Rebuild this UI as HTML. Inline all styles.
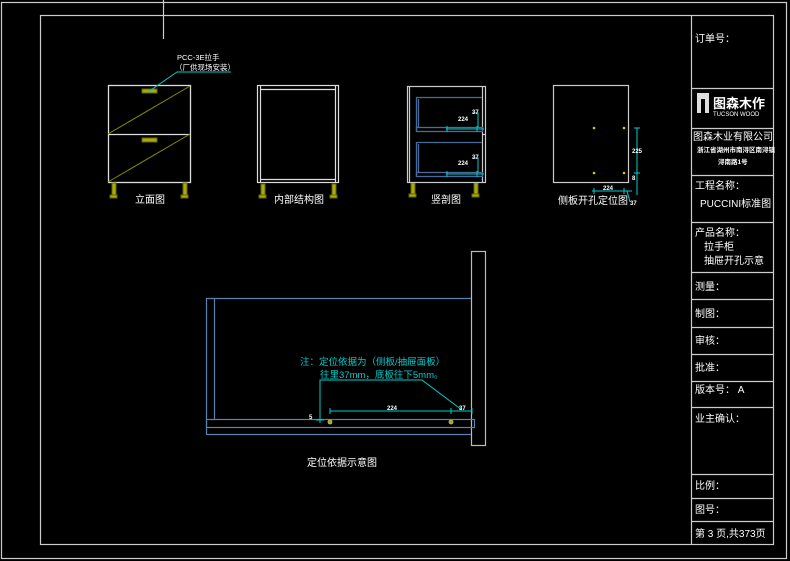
<!DOCTYPE html>
<html><head><meta charset="utf-8"><style>
html,body{margin:0;padding:0;background:#000;width:790px;height:561px;overflow:hidden}
svg{display:block}
text{font-family:"Liberation Sans","Noto Sans CJK SC",sans-serif;fill:#fff}
</style></head><body>
<svg width="790" height="561" viewBox="0 0 790 561" xmlns="http://www.w3.org/2000/svg">
<g fill="none" stroke="#ccc" stroke-width="1.2">
<rect x="1.5" y="2.5" width="785" height="556"/>
<rect x="40.5" y="15.5" width="733" height="529"/>
<line x1="163.5" y1="0" x2="163.5" y2="39"/>
<line x1="691.5" y1="15" x2="691.5" y2="544"/>
<line x1="691" y1="88.5" x2="773" y2="88.5"/>
<line x1="691" y1="128.5" x2="773" y2="128.5"/>
<line x1="691" y1="175.5" x2="773" y2="175.5"/>
<line x1="691" y1="222.5" x2="773" y2="222.5"/>
<line x1="691" y1="272.5" x2="773" y2="272.5"/>
<line x1="691" y1="299.5" x2="773" y2="299.5"/>
<line x1="691" y1="327.5" x2="773" y2="327.5"/>
<line x1="691" y1="354.5" x2="773" y2="354.5"/>
<line x1="691" y1="381.5" x2="773" y2="381.5"/>
<line x1="691" y1="407.5" x2="773" y2="407.5"/>
<line x1="691" y1="474.5" x2="773" y2="474.5"/>
<line x1="691" y1="498.5" x2="773" y2="498.5"/>
<line x1="691" y1="521.5" x2="773" y2="521.5"/>
</g>
<g font-size="10">
<text x="695" y="42">订单号：</text>
<text x="693" y="140">图森木业有限公司</text>
<text x="695" y="189">工程名称：</text>
<text x="700" y="207">PUCCINI标准图</text>
<text x="695" y="236">产品名称：</text>
<text x="704" y="250">拉手柜</text>
<text x="704" y="264">抽屉开孔示意</text>
<text x="695" y="290">测量：</text>
<text x="695" y="317">制图：</text>
<text x="695" y="344">审核：</text>
<text x="695" y="371">批准：</text>
<text x="695" y="393">版本号： A</text>
<text x="695" y="422">业主确认：</text>
<text x="695" y="489">比例：</text>
<text x="695" y="513">图号：</text>
<text x="695" y="537">第 3 页,共373页</text>
</g>
<text x="697" y="152" font-size="6.5" font-weight="bold">浙江省湖州市南浔区南浔镇</text>
<text x="718" y="164" font-size="6.5" font-weight="bold">浔南路1号</text>
<rect x="697" y="93" width="12" height="20" fill="#ddd"/>
<rect x="701" y="99" width="4" height="14" fill="#000"/>
<text x="713" y="108" font-size="13" font-weight="bold">图森木作</text>
<text x="713" y="116" font-size="6">TUCSON WOOD</text>

<g fill="none" stroke="#ddd" stroke-width="1.3">
<rect x="108.5" y="85.5" width="82" height="97"/>
<line x1="108" y1="134.5" x2="190" y2="134.5"/>
</g>
<g stroke="#888800" stroke-width="1">
<line x1="108" y1="134" x2="190" y2="86"/>
<line x1="108" y1="182" x2="190" y2="134"/>
</g>
<g fill="#aaaa10" stroke="#666600">
<rect x="142" y="89" width="15" height="4"/><rect x="142" y="138" width="15" height="4"/>
<rect x="112" y="183" width="4" height="13"/><rect x="110" y="195" width="7" height="3"/>
<rect x="183" y="183" width="4" height="13"/><rect x="181" y="195" width="7" height="3"/>
<rect x="261" y="184" width="4" height="12"/><rect x="259" y="195" width="7" height="3"/>
<rect x="332" y="184" width="4" height="12"/><rect x="330" y="195" width="7" height="3"/>
<rect x="411" y="183" width="4" height="12"/><rect x="409" y="194" width="7" height="3"/>
<rect x="474" y="183" width="4" height="12"/><rect x="472" y="194" width="7" height="3"/>
</g>
<polyline points="148,92 177,72 231,72" fill="none" stroke="#0cc" stroke-width="1"/>
<text x="177" y="60" font-size="7.5">PCC-3E拉手</text>
<text x="175" y="70" font-size="7.5">（厂供现场安装）</text>
<text x="135" y="203" font-size="10">立面图</text>

<g fill="none" stroke="#ddd" stroke-width="1.2">
<rect x="257.5" y="85.5" width="81" height="97"/>
<line x1="260.5" y1="86" x2="260.5" y2="182"/>
<line x1="335.5" y1="86" x2="335.5" y2="182"/>
<line x1="260" y1="89.5" x2="336" y2="89.5"/>
<line x1="260" y1="179.5" x2="336" y2="179.5"/>
</g>
<text x="274" y="203" font-size="10">内部结构图</text>

<g fill="none" stroke="#ccc" stroke-width="1.2">
<rect x="407.5" y="86.5" width="78" height="96"/>
<line x1="409.5" y1="87" x2="409.5" y2="182"/>
<line x1="482.5" y1="87" x2="482.5" y2="182"/>
<line x1="482" y1="134.5" x2="486" y2="134.5"/>
</g>
<g fill="none" stroke="#4a6a9a" stroke-width="1.3">
<polyline points="482,97.5 416.5,97.5 416.5,131"/>
<line x1="418.5" y1="99" x2="418.5" y2="128"/>
<rect x="416.5" y="127.5" width="66" height="4"/>
<polyline points="482,142.5 416.5,142.5 416.5,176"/>
<line x1="418.5" y1="144" x2="418.5" y2="173"/>
<rect x="416.5" y="172.5" width="66" height="4"/>
</g>
<g stroke="#0cc" stroke-width="1" fill="none">
<line x1="446" y1="129" x2="484" y2="129"/><line x1="447" y1="126" x2="447" y2="132"/><line x1="477" y1="126" x2="477" y2="132"/><polyline points="472,113 478,113 478,127"/>
<line x1="446" y1="174" x2="484" y2="174"/><line x1="447" y1="171" x2="447" y2="177"/><line x1="477" y1="171" x2="477" y2="177"/><polyline points="472,158 478,158 478,172"/>
</g>
<g font-size="6" font-weight="bold"><text x="458" y="121">224</text><text x="472" y="114">37</text><text x="458" y="165">224</text><text x="472" y="159">37</text></g>
<text x="431" y="203" font-size="10">竖剖图</text>

<rect x="553.5" y="85.5" width="75" height="97" fill="none" stroke="#ccc" stroke-width="1.2"/>
<g fill="#cc0"><circle cx="594" cy="128" r="1.3"/><circle cx="624" cy="128" r="1.3"/><circle cx="594" cy="173" r="1.3"/><circle cx="624" cy="173" r="1.3"/></g>
<g stroke="#0cc" stroke-width="1" fill="none">
<line x1="637" y1="128" x2="637" y2="195"/><line x1="634" y1="128" x2="640" y2="128"/><line x1="634" y1="173" x2="640" y2="173"/>
<line x1="592" y1="191" x2="632" y2="191"/><line x1="594" y1="188" x2="594" y2="194"/><line x1="624" y1="188" x2="624" y2="194"/><polyline points="627,191 630,202"/>
</g>
<g font-size="6" font-weight="bold"><text x="632" y="153">225</text><text x="632" y="180">8</text><text x="603" y="190">224</text><text x="630" y="205">37</text></g>
<text x="558" y="204" font-size="10">侧板开孔定位图</text>

<rect x="471.5" y="251.5" width="14" height="194" fill="none" stroke="#bbb" stroke-width="1.2"/>
<g fill="none" stroke="#5a82b0" stroke-width="1.2">
<polyline points="471,298.5 206.5,298.5 206.5,434"/>
<line x1="214.5" y1="298" x2="214.5" y2="419"/>
<rect x="206.5" y="419.5" width="268" height="8"/>
<polyline points="206,434.5 471,434.5"/>
</g>
<g stroke="#0cc" stroke-width="1" fill="none">
<polyline points="320,423 320,380 422,380 462,410"/>
<line x1="330" y1="411" x2="472" y2="411"/><line x1="330" y1="408" x2="330" y2="414"/><line x1="451" y1="408" x2="451" y2="414"/><line x1="472" y1="408" x2="472" y2="414"/>
<line x1="316" y1="420" x2="324" y2="420"/>
</g>
<g fill="#996" stroke="#cc0" stroke-width="0.8"><circle cx="330" cy="422" r="2"/><circle cx="451" cy="422" r="2"/></g>
<g font-size="6" font-weight="bold"><text x="387" y="410">224</text><text x="459" y="410">37</text><text x="309" y="419">5</text></g>
<text x="300" y="365" font-size="9.5" style="fill:#0cc">注：定位依据为（侧板/抽屉面板）</text>
<text x="320" y="378" font-size="9.5" style="fill:#0cc">往里37mm，底板往下5mm。</text>
<text x="307" y="466" font-size="10">定位依据示意图</text>
</svg>
</body></html>
